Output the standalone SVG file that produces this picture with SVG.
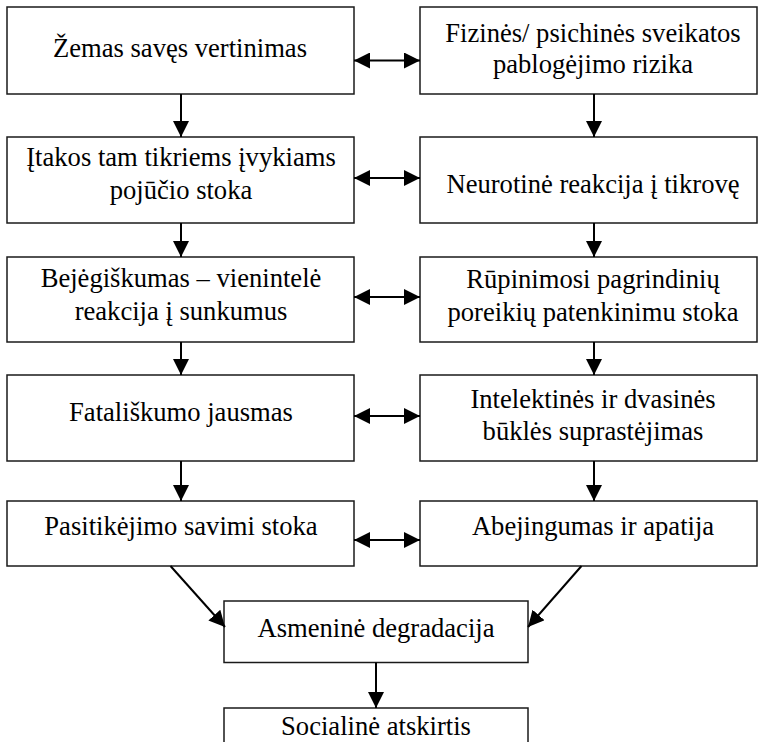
<svg xmlns="http://www.w3.org/2000/svg" width="758" height="742" viewBox="0 0 758 742">
<style>
.box{fill:#fff;stroke:#1a1a1a;stroke-width:1.5}
.t{font-family:'Liberation Serif','Times New Roman',Tinos,'DejaVu Serif',serif;font-size:26.6px;fill:#000;text-anchor:middle}
.c{stroke:#000;stroke-width:2;fill:none}
</style>
<defs>
<marker id="ah" viewBox="0 0 16 16" refX="16" refY="8" markerWidth="16" markerHeight="16" markerUnits="userSpaceOnUse" orient="auto-start-reverse">
<path d="M0,0 L16,8 L0,16 z" fill="#000"/>
</marker>
</defs>
<rect width="758" height="742" fill="#fff"/>
<g font-family="Liberation Serif, Times New Roman, serif">
<g id="n1"><rect class="box" x="7" y="7" width="347" height="87"/><text class="t" x="180" y="57">Žemas savęs vertinimas</text></g>
<g id="n2"><rect class="box" x="420" y="7" width="337" height="87"/><text class="t" x="593" y="42">Fizinės/ psichinės sveikatos</text><text class="t" x="593" y="73">pablogėjimo rizika</text></g>
<g id="n3"><rect class="box" x="7" y="137" width="347" height="86"/><text class="t" x="181" y="166">Įtakos tam tikriems įvykiams</text><text class="t" x="181" y="199">pojūčio stoka</text></g>
<g id="n4"><rect class="box" x="420" y="137" width="337" height="86"/><text class="t" x="593" y="193">Neurotinė reakcija į tikrovę</text></g>
<g id="n5"><rect class="box" x="7" y="257" width="347" height="85"/><text class="t" x="181" y="287">Bejėgiškumas – vienintelė</text><text class="t" x="181" y="320">reakcija į sunkumus</text></g>
<g id="n6"><rect class="box" x="420" y="257" width="337" height="85"/><text class="t" x="593" y="288">Rūpinimosi pagrindinių</text><text class="t" x="593" y="321">poreikių patenkinimu stoka</text></g>
<g id="n7"><rect class="box" x="7" y="375" width="347" height="86"/><text class="t" x="181" y="421">Fatališkumo jausmas</text></g>
<g id="n8"><rect class="box" x="420" y="375" width="337" height="86"/><text class="t" x="593" y="408">Intelektinės ir dvasinės</text><text class="t" x="593" y="440">būklės suprastėjimas</text></g>
<g id="n9"><rect class="box" x="7" y="501" width="347" height="65"/><text class="t" x="181" y="535">Pasitikėjimo savimi stoka</text></g>
<g id="n10"><rect class="box" x="420" y="501" width="337" height="65"/><text class="t" x="593" y="535">Abejingumas ir apatija</text></g>
<g id="n11"><rect class="box" x="224" y="601" width="304" height="61.5"/><text class="t" x="376" y="637">Asmeninė degradacija</text></g>
<g id="n12"><rect class="box" x="224" y="708" width="304" height="60"/><text class="t" x="376" y="735">Socialinė atskirtis</text></g>
</g>
<g id="connectors" class="c">
<line x1="354" y1="60.5" x2="420" y2="60.5" marker-start="url(#ah)" marker-end="url(#ah)"/>
<line x1="354" y1="178" x2="420" y2="178" marker-start="url(#ah)" marker-end="url(#ah)"/>
<line x1="354" y1="297" x2="420" y2="297" marker-start="url(#ah)" marker-end="url(#ah)"/>
<line x1="354" y1="416" x2="420" y2="416" marker-start="url(#ah)" marker-end="url(#ah)"/>
<line x1="354" y1="540" x2="420" y2="540" marker-start="url(#ah)" marker-end="url(#ah)"/>
<line x1="181" y1="94" x2="181" y2="137" marker-end="url(#ah)"/>
<line x1="181" y1="223" x2="181" y2="257" marker-end="url(#ah)"/>
<line x1="181" y1="342" x2="181" y2="375" marker-end="url(#ah)"/>
<line x1="181" y1="461" x2="181" y2="501" marker-end="url(#ah)"/>
<line x1="594" y1="94" x2="594" y2="137" marker-end="url(#ah)"/>
<line x1="594" y1="223" x2="594" y2="257" marker-end="url(#ah)"/>
<line x1="594" y1="342" x2="594" y2="375" marker-end="url(#ah)"/>
<line x1="594" y1="461" x2="594" y2="501" marker-end="url(#ah)"/>
<line x1="170.5" y1="566" x2="225" y2="627" marker-end="url(#ah)"/>
<line x1="581.5" y1="566" x2="528" y2="627" marker-end="url(#ah)"/>
<line x1="376" y1="662.5" x2="376" y2="708" marker-end="url(#ah)"/>
</g>
</svg>
